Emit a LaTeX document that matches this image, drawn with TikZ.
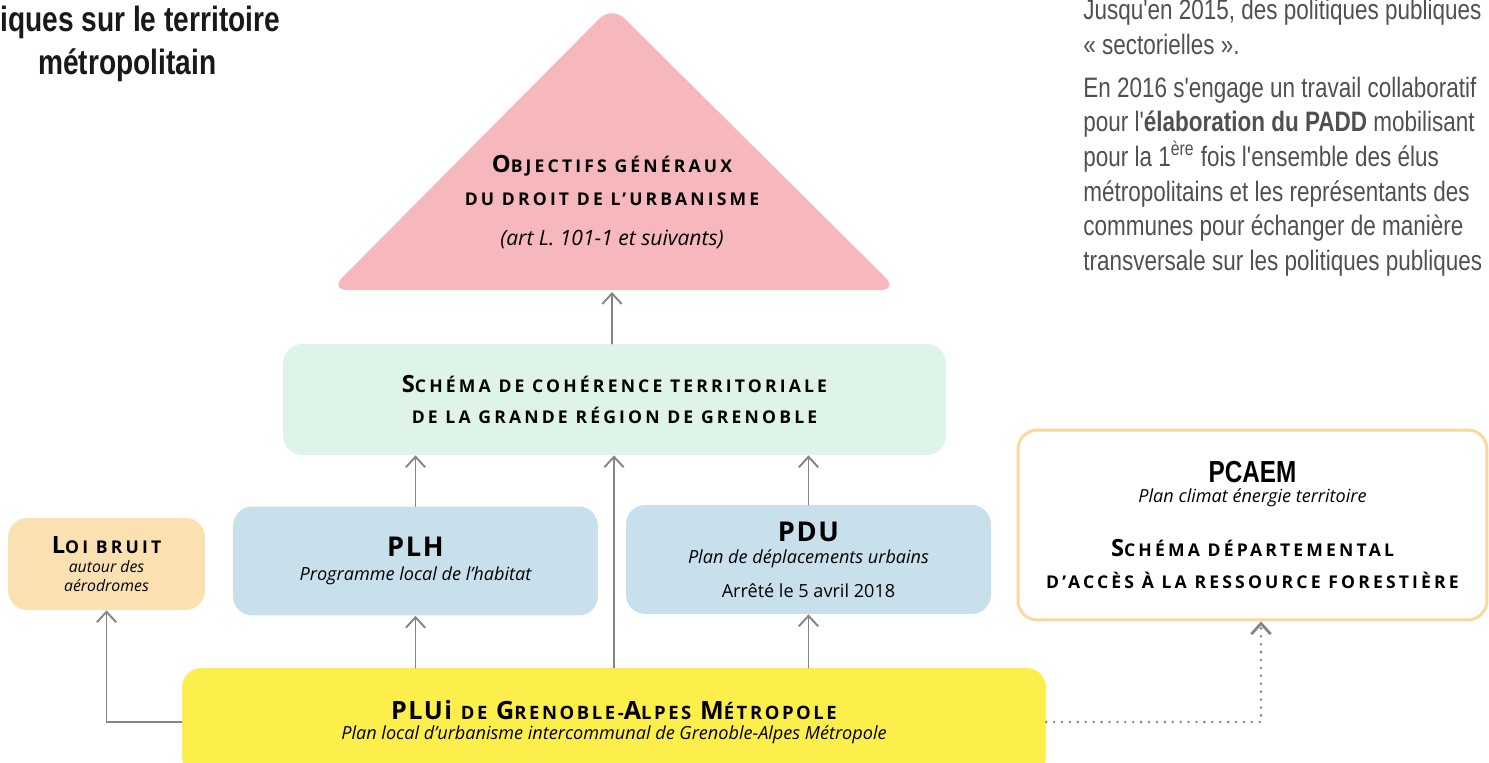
\documentclass[tikz,border=0pt]{standalone}
\usepackage{fontspec}
\setmainfont{Open Sans}
\newfontfamily\condfont{Liberation Sans}[FakeStretch=0.8]
\usetikzlibrary{arrows.meta}
\usetikzlibrary{positioning}

\definecolor{pinkfill}{HTML}{F6B7BD}
\definecolor{greenfill}{HTML}{DEF4E9}
\definecolor{bluefill}{HTML}{C8E0EC}
\definecolor{orangefill}{HTML}{FBE0B2}
\definecolor{orangeline}{HTML}{FAD8A0}
\definecolor{yellowfill}{HTML}{FCEE4B}
\definecolor{arrowgray}{HTML}{858585}
\definecolor{textgray}{HTML}{505050}

% petites capitales faites a la main
\newcommand\capbig[1]{{\bfseries\fontsize{13.5}{14}\selectfont\addfontfeatures{LetterSpace=14}#1}}
\newcommand\capsmall[1]{{\bfseries\fontsize{10}{14}\selectfont\addfontfeatures{LetterSpace=18}#1}}
\newcommand\pluibig[1]{{\bfseries\fontsize{14.3}{15}\selectfont\addfontfeatures{LetterSpace=6}#1}}
\newcommand\pluismall[1]{{\bfseries\fontsize{10.5}{15}\selectfont\addfontfeatures{LetterSpace=14}#1}}
\newcommand\wgap{\hspace{5pt}}

\begin{document}
\begin{tikzpicture}[line cap=round,line join=round,>={Straight Barb[length=6pt,width=11pt]},x=0.02cm,y=-0.02cm,
  box/.style={rounded corners=11pt,inner sep=0pt,align=center,font=\fontsize{10.3}{13}\selectfont},
  arr/.style={draw=arrowgray,line width=1.1pt,->},
  dotline/.style={dash pattern=on 0pt off 4.5pt,line width=1.6pt}]
\useasboundingbox (0,0) rectangle (1489,763);
\clip (0,0) rectangle (1489,763);

% titre et texte de droite
\node[anchor=base west,inner sep=0pt,font=\condfont\bfseries\fontsize{20}{24}\selectfont,text=black!90] (titleA) at (0,32) {iques sur le territoire};
\node[anchor=base west,inner sep=0pt,font=\condfont\bfseries\fontsize{20}{24}\selectfont,text=black!90] (titleB) at (38,75) {métropolitain};
\node[anchor=north west,inner sep=0pt,align=left,text=textgray,font=\condfont\fontsize{16}{19.7}\selectfont] (intro) at (1083,-1)
  {Jusqu'en 2015, des politiques publiques\\
   « sectorielles ».\\[4.8pt]
   En 2016 s'engage un travail collaboratif\\
   pour l'\textbf{élaboration du PADD} mobilisant\\
   pour la 1\textsuperscript{ère} fois l'ensemble des élus\\
   métropolitains et les représentants des\\
   communes pour échanger de manière\\
   transversale sur les politiques publiques};

% pyramide
\fill[pinkfill,rounded corners=10pt] (612,6) -- (898,290) -- (330,290) -- cycle;
\node[align=center,inner sep=0pt,font=\fontsize{9.5}{19}\selectfont] (objtxt) at (612,202)
  {\capbig{O}\capsmall{BJECTIFS GÉNÉRAUX}\\
   \capsmall{DU DROIT DE L’URBANISME}\\[4pt]
   {\fontsize{12}{12}\selectfont\itshape (art L. 101-1 et suivants)}};
\coordinate (objbase) at (612,292);

% boites
\node[box,fill=greenfill,minimum width=13.26cm,minimum height=2.22cm,font=\fontsize{9}{18}\selectfont] (scot) at (614.5,399.5)
  {\capbig{S}\capsmall{CHÉMA DE COHÉRENCE TERRITORIALE}\\
   \capsmall{DE LA GRANDE RÉGION DE GRENOBLE}};
\node[box,fill=bluefill,minimum width=7.3cm,minimum height=2.18cm] (plh) at (415.5,561)
  {{\fontsize{15.5}{16}\selectfont\bfseries\addfontfeatures{LetterSpace=6}PLH}\\[1pt]
   {\itshape Programme local de l’habitat}};
\node[box,fill=bluefill,minimum width=7.3cm,minimum height=2.18cm] (pdu) at (808.5,559.5)
  {{\fontsize{15.5}{16}\selectfont\bfseries\addfontfeatures{LetterSpace=6}PDU}\\
   {\itshape Plan de déplacements urbains}\\[6pt]
   Arrêté le 5 avril 2018};
\node[box,fill=orangefill,minimum width=3.94cm,minimum height=1.84cm,font=\fontsize{9}{11}\selectfont] (loi) at (106.5,564)
  {\capbig{L}\capsmall{OI BRUIT}\\
   {\itshape autour des}\\
   {\itshape aérodromes}};
\node[box,fill=white,draw=orangeline,line width=1.7pt,minimum width=9.38cm,minimum height=3.8cm] (pcaem) at (1252.5,525)
  {{\condfont\bfseries\fontsize{17.3}{18}\selectfont PCAEM}\\[-2pt]
   {\itshape Plan climat énergie territoire}\\[18pt]
   \capbig{S}\capsmall{CHÉMA DÉPARTEMENTAL}\\[5pt]
   \capsmall{D’ACCÈS À LA RESSOURCE FORESTIÈRE}};
\node[box,fill=yellowfill,minimum width=17.28cm,minimum height=2.16cm] (plui) at (614,722)
  {\pluibig{PLUi}\wgap\pluismall{DE}\wgap\pluibig{G}\pluismall{RENOBLE-}\pluibig{A}\pluismall{LPES}\wgap\pluibig{M}\pluismall{ÉTROPOLE}\\[-2pt]
   {\itshape Plan local d’urbanisme intercommunal de Grenoble-Alpes Métropole}};

% fleches
\draw[arr] (scot.north -| objbase) -- (objbase);
\draw[arr] (plh.north) -- (plh.north |- scot.south);
\draw[arr] (pdu.north) -- (pdu.north |- scot.south);
\draw[arr] (plui.north) -- (plui.north |- scot.south);
\draw[arr] (plh.south |- plui.north) -- (plh.south);
\draw[arr] (pdu.south |- plui.north) -- (pdu.south);
\draw[arr] (plui.west) -| (loi.south);
\draw[arr,dotline] (plui.east) -| ([xshift=0.17cm]pcaem.south);
\end{tikzpicture}
\end{document}
